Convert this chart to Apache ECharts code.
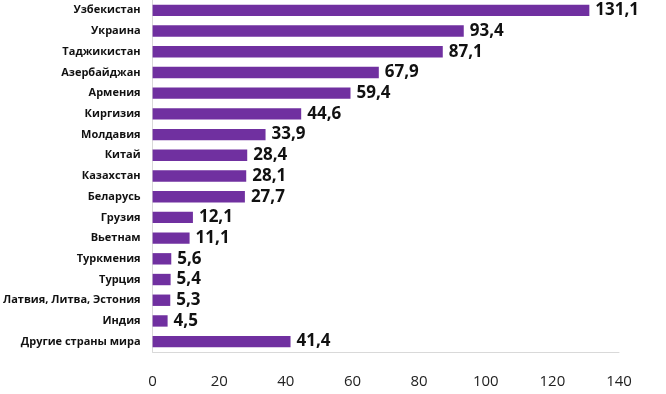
<!DOCTYPE html>
<html><head><meta charset="utf-8">
<script src="https://cdn.jsdelivr.net/npm/echarts@6/dist/echarts.min.js"></script>
<style>html,body{margin:0;padding:0;background:#fff}#c{width:666px;height:394px}</style>
</head><body><div id="c"></div>
<script>
const categories = ["Узбекистан","Украина","Таджикистан","Азербайджан","Армения","Киргизия","Молдавия","Китай","Казахстан","Беларусь","Грузия","Вьетнам","Туркмения","Турция","Латвия, Литва, Эстония","Индия","Другие страны мира"];
const values = [131.1,93.4,87.1,67.9,59.4,44.6,33.9,28.4,28.1,27.7,12.1,11.1,5.6,5.4,5.3,4.5,41.4];
const xTicks = [0,20,40,60,80,100,120,140];

const chart = echarts.init(document.getElementById('c'));
chart.setOption({
  animation:false,
  grid:{left:151,right:47,top:0,bottom:42,containLabel:false},
  xAxis:{type:'value',min:0,max:140,interval:20,
    axisLine:{show:true,lineStyle:{color:'#d9d9d9',width:1}},axisTick:{show:false},splitLine:{show:false},
    axisLabel:{margin:22,fontSize:15,color:'#222',fontFamily:'Open Sans',
      formatter:v=>xTicks.includes(v)?String(v):''}},
  yAxis:{type:'category',inverse:true,data:categories,
    axisLine:{show:true,lineStyle:{color:'#d9d9d9',width:1}},axisTick:{show:false},
    axisLabel:{margin:12,fontSize:11,fontWeight:'bold',color:'#111',fontFamily:'Open Sans'}},
  series:[{type:'bar',data:values,barWidth:'55%',
    itemStyle:{color:'#7030A0'},
    label:{show:true,position:'right',distance:6,fontSize:17,fontWeight:'bold',color:'#111',fontFamily:'Open Sans',
      formatter:p=>String(p.value).replace('.',',')}
  }]
});
</script></body></html>
